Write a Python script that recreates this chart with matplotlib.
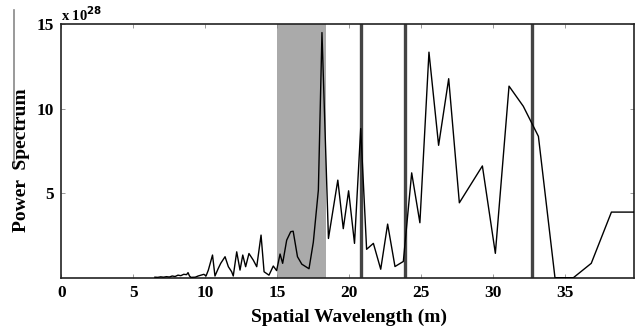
import matplotlib
matplotlib.use("Agg")
import matplotlib.pyplot as plt
from matplotlib.lines import Line2D

wavelength = [6.5, 6.7, 6.9, 7.1, 7.3, 7.5, 7.7, 7.9, 8.1, 8.3, 8.5, 8.7, 8.8, 8.9, 9.0, 9.3, 9.5, 9.7, 9.9,
              10.05, 10.21, 10.5, 10.67, 10.9, 11.07, 11.37, 11.6, 11.83, 11.94, 12.18, 12.41, 12.6, 12.8,
              13.03, 13.33, 13.57, 13.87, 14.08, 14.42, 14.72, 14.95, 15.19, 15.37, 15.65, 15.93, 16.1,
              16.4, 16.7, 17.2, 17.5, 17.85, 18.1, 18.55, 19.2, 19.58, 19.95, 20.36, 20.79, 21.2, 21.67,
              22.18, 22.66, 23.17, 23.75, 24.33, 24.9, 25.53, 26.2, 26.9, 27.64, 29.24, 30.14, 31.09,
              32.08, 33.13, 34.28, 35.56, 36.8, 38.2, 39.77]
power = [0.03, 0.02, 0.05, 0.03, 0.06, 0.04, 0.1, 0.07, 0.15, 0.12, 0.2, 0.18, 0.3, 0.1, 0.02, 0.03, 0.1, 0.15, 0.2,
         0.1, 0.45, 1.34, 0.1, 0.55, 0.85, 1.24, 0.65, 0.35, 0.1, 1.53, 0.45, 1.34, 0.65,
         1.43, 1.04, 0.65, 2.52, 0.35, 0.15, 0.69, 0.42, 1.4, 0.85, 2.22, 2.72, 2.75,
         1.24, 0.8, 0.53, 2.1, 5.18, 14.5, 2.32, 5.77, 2.9, 5.14, 2.03, 8.82, 1.68, 2.03,
         0.5, 3.17, 0.66, 0.96, 6.2, 3.25, 13.34, 7.83, 11.77, 4.43, 6.61, 1.44, 11.33,
         10.14, 8.36, 0.0, 0.0, 0.85, 3.88, 3.88]
shade_band = [15.0, 18.36]
marker_lines = [20.8, 23.9, 32.67]
xticks = [0, 5, 10, 15, 20, 25, 30, 35]
yticks = [5, 10, 15]

plt.rcParams['font.family'] = ['Liberation Serif', 'DejaVu Serif']
plt.rcParams['font.weight'] = 'bold'

fig = plt.figure(figsize=(6.36, 3.3), dpi=100)
ax = fig.add_axes([0.0964, 0.1585, 0.9005, 0.7685])

ax.axvspan(shade_band[0], shade_band[1], color='#aaaaaa', lw=0, zorder=1)
for xv in marker_lines:
    ax.axvline(xv, color='#444444', lw=2.4, zorder=2)
ax.plot(wavelength, power, color='black', lw=1.0, zorder=3)

ax.set_xlim(0, 39.77)
ax.set_ylim(0, 15)
ax.set_xticks(xticks)
ax.set_yticks(yticks)
ax.tick_params(direction='in', length=3, width=0.6, top=True, right=True,
               labelsize=12.5, pad=5, colors='#888888', labelcolor='black')
for lab in ax.get_xticklabels() + ax.get_yticklabels():
    lab.set_fontweight('bold')
for sp in ax.spines.values():
    sp.set_linewidth(1.2)
    sp.set_color('#222222')

fig.text(0.5487, 0.037, 'Spatial Wavelength (m)', ha='center', va='center',
         fontsize=14, fontweight='bold')
fig.text(0.034, 0.515, 'Power  Spectrum', rotation=90, ha='center', va='center',
         fontsize=14, fontweight='bold')
fig.text(0.096, 0.955, r'x 10$^{28}$', ha='left', va='center', fontsize=10.5, fontweight='bold')

fig.add_artist(Line2D([0.022, 0.022], [0.97, 0.49], transform=fig.transFigure,
                      color='#888888', lw=1.2))

fig.savefig('out.png', dpi=100)
